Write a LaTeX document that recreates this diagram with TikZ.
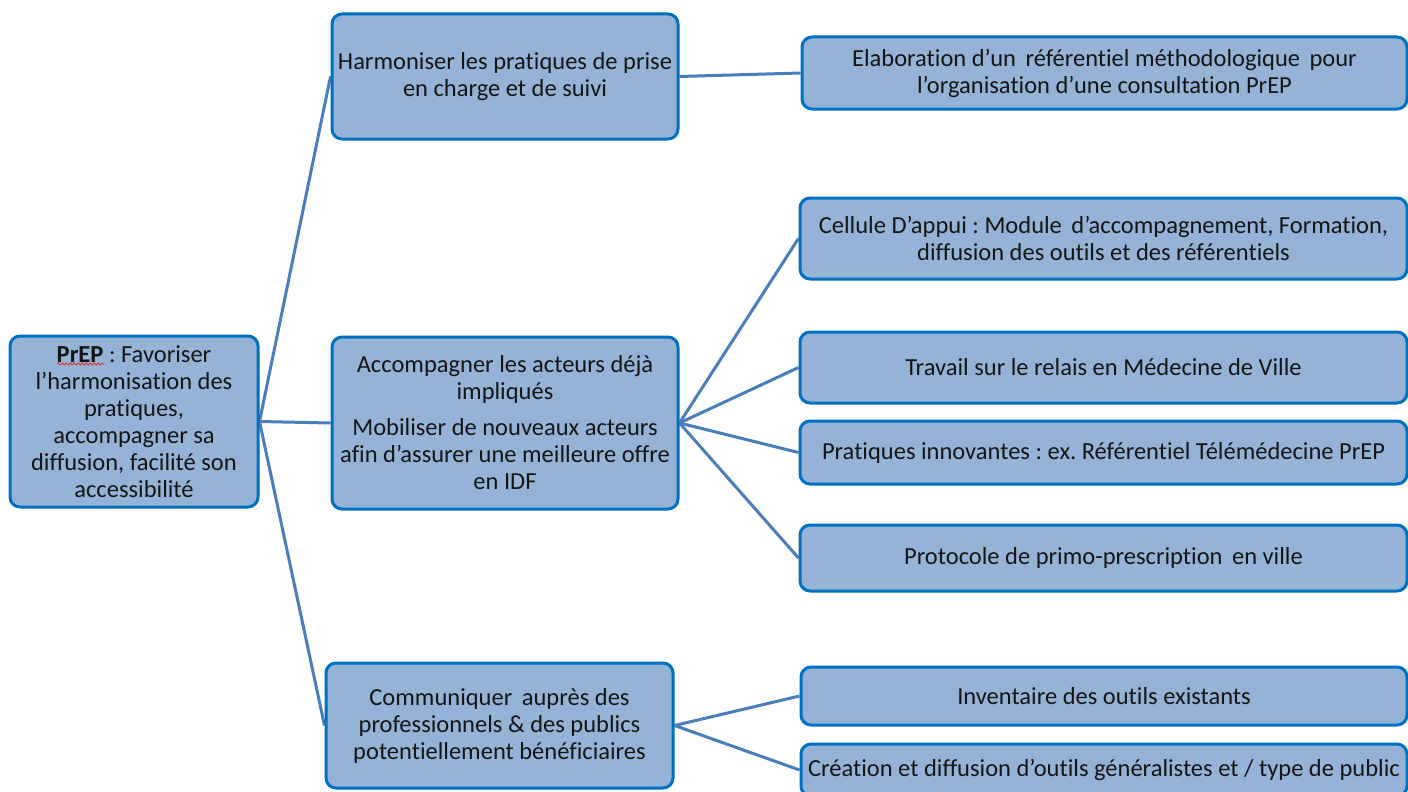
\documentclass[tikz,border=0pt]{standalone}
\usepackage{fontspec}
\setmainfont[Ligatures=NoCommon]{Carlito}
\usetikzlibrary{backgrounds,decorations.pathmorphing}
\definecolor{boxfill}{HTML}{95B3D7}
\definecolor{boxdraw}{HTML}{0070C0}
\definecolor{linkcol}{HTML}{4A7EBB}
\definecolor{txt}{HTML}{151515}
\definecolor{spell}{HTML}{E03030}
\newcommand{\gapsp}{\hspace{4pt}}
\tikzset{
  box/.style={draw=boxdraw, fill=boxfill, line width=3pt, rounded corners=10pt,
    align=center, text=txt, inner sep=0pt,
    font=\fontsize{24.5}{27}\selectfont\frenchspacing},
  link/.style={draw=linkcol, line width=3pt},
  squiggle/.style={draw=spell, line width=0.8pt, decorate,
    decoration={snake, amplitude=1pt, segment length=4pt}}
}
\begin{document}
\begin{tikzpicture}[x=1pt,y=-1pt]
\useasboundingbox (0,0) rectangle (1408,792);
\node[box, minimum width=248pt, minimum height=171pt] (root) at (134,421.5)
  {\textbf{PrEP} : Favoriser\\l’harmonisation des\\pratiques,\\accompagner sa\\diffusion, facilité son\\accessibilité};
\node[box, minimum width=346pt, minimum height=125pt] (m1) at (505,76.5)
  {Harmoniser les pratiques de prise\\en charge et de suivi};
\node[box, minimum width=346pt, minimum height=172pt] (m2) at (505,423)
  {Accompagner les acteurs déjà\\impliqués\\[9pt]Mobiliser de nouveaux acteurs\\afin d’assurer une meilleure offre\\en IDF};
\node[box, minimum width=347pt, minimum height=125pt] (m3) at (499.5,725.5)
  {Communiquer\gapsp{} auprès des\\professionnels \& des publics\\potentiellement bénéficiaires};
\node[box, minimum width=605pt, minimum height=72pt] (r1) at (1104.5,73)
  {Elaboration d’un\gapsp{} référentiel méthodologique\gapsp{} pour\\l’organisation d’une consultation PrEP};
\node[box, minimum width=607pt, minimum height=81pt] (r2) at (1103.5,238.5)
  {Cellule D’appui : Module\gapsp{} d’accompagnement, Formation,\\diffusion des outils et des référentiels};
\node[box, minimum width=607pt, minimum height=71pt] (r3) at (1103.5,367.5)
  {Travail sur le relais en Médecine de Ville};
\node[box, minimum width=607pt, minimum height=63pt] (r4) at (1103.5,452.5)
  {Pratiques innovantes : ex. Référentiel Télémédecine PrEP};
\node[box, minimum width=607pt, minimum height=66pt] (r5) at (1103.5,558)
  {Protocole de primo-prescription\gapsp{} en ville};
\node[box, minimum width=606pt, minimum height=58pt] (r6) at (1104,696)
  {Inventaire des outils existants};
\node[box, minimum width=606pt, minimum height=52pt] (r7) at (1104,770)
  {Création et diffusion d’outils généralistes et / type de public};
\draw[squiggle] (57,364) -- (104,364);
\begin{scope}[on background layer]
\draw[link] (root.east) -- (m1.west);
\draw[link] (root.east) -- (m2.west);
\draw[link] (root.east) -- (m3.west);
\draw[link] (m1.east) -- (r1.west);
\draw[link] (m2.east) -- (r2.west);
\draw[link] (m2.east) -- (r3.west);
\draw[link] (m2.east) -- (r4.west);
\draw[link] (m2.east) -- (r5.west);
\draw[link] (m3.east) -- (r6.west);
\draw[link] (m3.east) -- (r7.west);
\end{scope}
\end{tikzpicture}
\end{document}
